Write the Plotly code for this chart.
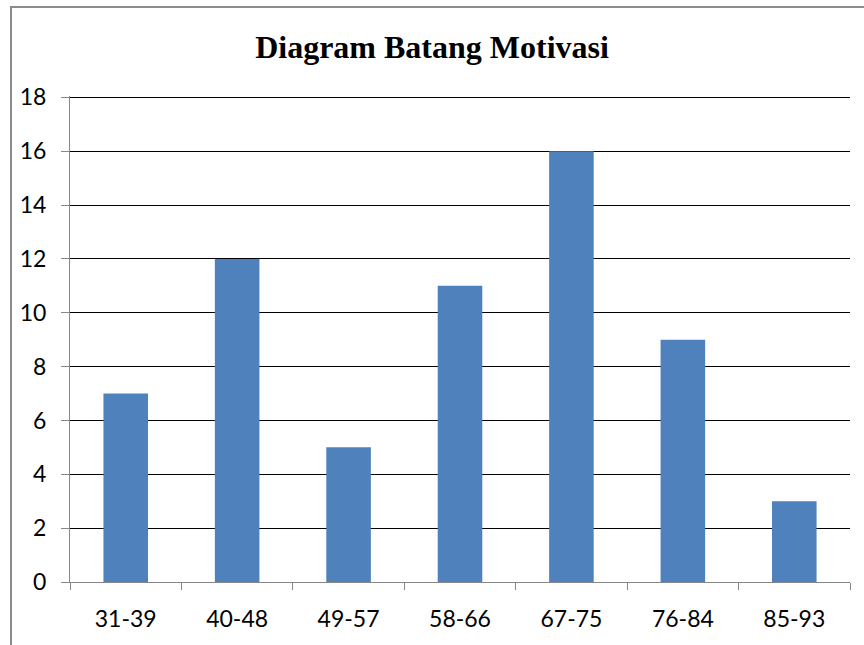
import plotly.graph_objects as go

categories = ["31-39", "40-48", "49-57", "58-66", "67-75", "76-84", "85-93"]
values = [7, 12, 5, 11, 16, 9, 3]
y_ticks = [0, 2, 4, 6, 8, 10, 12, 14, 16, 18]

fig = go.Figure()
fig.add_trace(go.Bar(
    x=categories, y=values, width=0.4,
    marker=dict(color="#4F81BD", line=dict(width=0)),
))

fig.update_layout(
    width=864, height=645,
    margin=dict(l=70, r=14, t=96, b=63),
    paper_bgcolor="white", plot_bgcolor="white",
    showlegend=False,
    title=dict(text="<b>Diagram Batang Motivasi</b>", x=0.5, xanchor="center",
               y=1 - 47 / 645, yanchor="middle",
               font=dict(family="Liberation Serif", size=32, color="black")),
    font=dict(family="Lato", size=23, color="black"),
    shapes=[
        dict(type="rect", xref="paper", yref="paper",
             x0=(11 - 70) / 780, x1=(880 - 70) / 780,
             y0=(582 - 660) / 486, y1=(582 - 7) / 486,
             line=dict(color="#8C8C8C", width=2), fillcolor="rgba(0,0,0,0)", layer="below"),
    ],
)
fig.update_xaxes(
    showline=True, linecolor="#868686", linewidth=1,
    ticks="outside", ticklen=7, tickcolor="#868686", tickson="boundaries",
    showgrid=False, ticklabelstandoff=16,
    tickfont=dict(family="Lato", size=23, color="black"),
)
fig.update_yaxes(
    range=[0, 18.05], tickvals=y_ticks,
    showline=True, linecolor="#868686", linewidth=1,
    ticks="outside", ticklen=8, tickcolor="#868686",
    showgrid=True, gridcolor="black", gridwidth=1,
    zeroline=False, ticklabelstandoff=10,
    tickfont=dict(family="Lato", size=23, color="black"),
)

fig.write_html("out.html", config={"displayModeBar": False},
               post_script="document.body.style.margin='0';")
